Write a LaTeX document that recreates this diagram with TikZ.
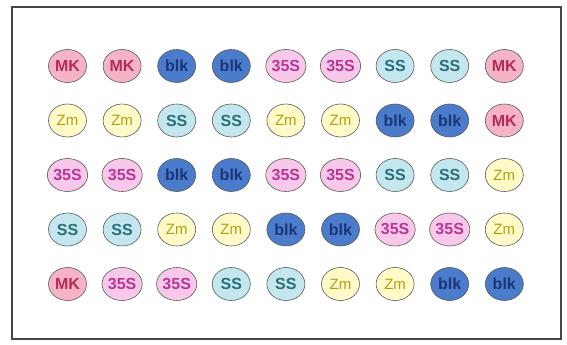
\documentclass[tikz,border=0pt]{standalone}
\usepackage{fontspec}
\setmainfont{Liberation Sans}
\definecolor{mkfill}{HTML}{F4B4C6}\definecolor{mktext}{HTML}{B82A55}
\definecolor{blkfill}{HTML}{4A7CCB}\definecolor{blktext}{HTML}{1C3578}
\definecolor{ssfill}{HTML}{C4E6EE}\definecolor{sstext}{HTML}{2A6F78}
\definecolor{zmfill}{HTML}{FFFAC8}\definecolor{zmtext}{HTML}{B0A010}
\definecolor{tsfill}{HTML}{F8C8EA}\definecolor{tstext}{HTML}{B83694}
\tikzset{
  blob/.style={ellipse, draw=gray!70!black, line width=0.6pt, minimum width=38pt, minimum height=33pt, inner sep=0pt, font=\fontsize{16}{16}\selectfont\bfseries},
  MK/.style={blob, fill=mkfill, text=mktext},
  blk/.style={blob, fill=blkfill, text=blktext},
  SS/.style={blob, fill=ssfill, text=sstext},
  Zm/.style={blob, fill=zmfill, text=zmtext, font=\fontsize{15}{15}\selectfont},
  TS/.style={blob, fill=tsfill, text=tstext},
}
\usetikzlibrary{shapes.geometric}
\begin{document}
\begin{tikzpicture}[x=1pt,y=1pt]
\useasboundingbox (0,0) rectangle (567,345);
\draw[line width=2pt, gray!55!black] (12,6) rectangle (561,338);
\foreach \row [count=\r] in {
  {MK/MK,MK/MK,blk/blk,blk/blk,TS/35S,TS/35S,SS/SS,SS/SS,MK/MK},
  {Zm/Zm,Zm/Zm,SS/SS,SS/SS,Zm/Zm,Zm/Zm,blk/blk,blk/blk,MK/MK},
  {TS/35S,TS/35S,blk/blk,blk/blk,TS/35S,TS/35S,SS/SS,SS/SS,Zm/Zm},
  {SS/SS,SS/SS,Zm/Zm,Zm/Zm,blk/blk,blk/blk,TS/35S,TS/35S,Zm/Zm},
  {MK/MK,TS/35S,TS/35S,SS/SS,SS/SS,Zm/Zm,Zm/Zm,blk/blk,blk/blk}}
{
  \foreach \st/\tx [count=\c] in \row {
    \node[\st] (n\r-\c) at ({67.5+54.6*(\c-1)}, {345-66-54.5*(\r-1)}) {\tx};
  }
}
\end{tikzpicture}
\end{document}
